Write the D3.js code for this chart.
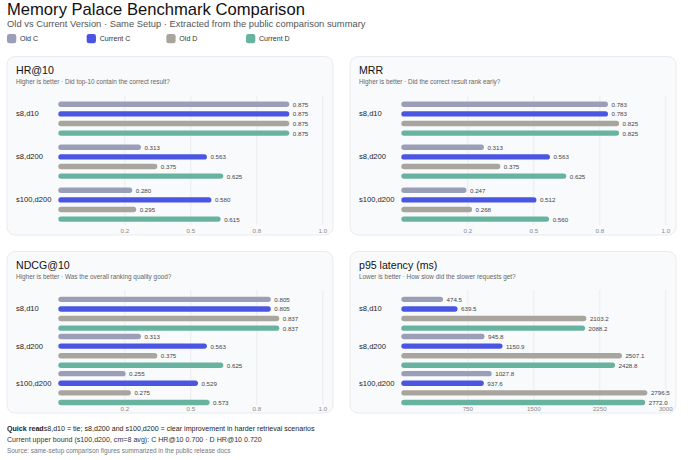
<!DOCTYPE html>
<html>
<head>
<meta charset="utf-8">
<script src="https://cdn.jsdelivr.net/npm/d3@7"></script>
<style>
  html, body { margin: 0; padding: 0; background: #ffffff; }
  svg { display: block; font-family: "Liberation Sans", Arial, Helvetica, sans-serif; }
</style>
</head>
<body>
<svg id="chart" width="690" height="460"></svg>
<script>
// ---------------- DATA ----------------
const categories = ["s8,d10", "s8,d200", "s100,d200"];
const seriesNames = ["Old C", "Current C", "Old D", "Current D"];
const seriesColors = ["#9a9fb7", "#4a55e2", "#a8a59e", "#68b3a0"];

// HR@10
const hrOldC = [0.875, 0.313, 0.280];
const hrCurC = [0.875, 0.563, 0.580];
const hrOldD = [0.875, 0.375, 0.295];
const hrCurD = [0.875, 0.625, 0.615];
// MRR
const mrrOldC = [0.783, 0.313, 0.247];
const mrrCurC = [0.783, 0.563, 0.512];
const mrrOldD = [0.825, 0.375, 0.268];
const mrrCurD = [0.825, 0.625, 0.560];
// NDCG@10
const ndcgOldC = [0.805, 0.313, 0.255];
const ndcgCurC = [0.805, 0.563, 0.529];
const ndcgOldD = [0.837, 0.375, 0.275];
const ndcgCurD = [0.837, 0.625, 0.573];
// p95 latency (ms)
const latOldC = [474.5, 945.8, 1027.8];
const latCurC = [639.5, 1150.9, 937.6];
const latOldD = [2103.2, 2507.1, 2796.5];
const latCurD = [2088.2, 2428.8, 2772.0];

const metricTicks = [0.25, 0.5, 0.75, 1.0];
const metricTickLabels = ["0.2", "0.5", "0.8", "1.0"];
const latencyTicks = [750, 1500, 2250, 3000];
const latencyTickLabels = ["750", "1500", "2250", "3000"];

const panelTitles = ["HR@10", "MRR", "NDCG@10", "p95 latency (ms)"];
const panelSubtitles = [
  "Higher is better · Did top-10 contain the correct result?",
  "Higher is better · Did the correct result rank early?",
  "Higher is better · Was the overall ranking quality good?",
  "Lower is better · How slow did the slower requests get?"
];

// ---------------- LAYOUT ----------------
const svg = d3.select("#chart");

svg.append("text").attr("x", 7).attr("y", 14.8)
  .attr("font-size", 16.6).attr("fill", "#111")
  .text("Memory Palace Benchmark Comparison");
svg.append("text").attr("x", 7).attr("y", 27.4)
  .attr("font-size", 9.4).attr("fill", "#555")
  .text("Old vs Current Version · Same Setup · Extracted from the public comparison summary");

// legend
const legendX = d3.scalePoint().domain(seriesNames).range([7, 246]);
const lg = svg.append("g");
seriesNames.forEach((s, i) => {
  lg.append("rect").attr("x", legendX(s)).attr("y", 34).attr("width", 9.3).attr("height", 9.3)
    .attr("rx", 2.3).attr("fill", seriesColors[i]);
  lg.append("text").attr("x", legendX(s) + 13).attr("y", 41.4)
    .attr("font-size", 7.1).attr("fill", "#333").text(s);
});

const panels = [
  { title: panelTitles[0], sub: panelSubtitles[0], series: [hrOldC, hrCurC, hrOldD, hrCurD],
    domain: [0, 1], ticks: metricTicks, tickLabels: metricTickLabels,
    x: 7, y: 56.5, w: 326, h: 178.5, row: 0 },
  { title: panelTitles[1], sub: panelSubtitles[1], series: [mrrOldC, mrrCurC, mrrOldD, mrrCurD],
    domain: [0, 1], ticks: metricTicks, tickLabels: metricTickLabels,
    x: 350, y: 56.5, w: 326, h: 178.5, row: 0 },
  { title: panelTitles[2], sub: panelSubtitles[2], series: [ndcgOldC, ndcgCurC, ndcgOldD, ndcgCurD],
    domain: [0, 1], ticks: metricTicks, tickLabels: metricTickLabels,
    x: 7, y: 251.5, w: 326, h: 161.5, row: 1 },
  { title: panelTitles[3], sub: panelSubtitles[3], series: [latOldC, latCurC, latOldD, latCurD],
    domain: [0, 3000], ticks: latencyTicks, tickLabels: latencyTickLabels,
    x: 350, y: 251.5, w: 326, h: 161.5, row: 1 }
];

const rowLayout = [
  { gridTop: 39.2, gridBottom: 168.5, bandTop: 40.7, bandBottom: 169.7, labelBase: 176 },
  { gridTop: 38.5, gridBottom: 153, bandTop: 43.7, bandBottom: 155.1, labelBase: 159 }
];

panels.forEach(p => {
  const L = rowLayout[p.row];
  const g = svg.append("g").attr("transform", `translate(${p.x},${p.y})`);
  g.append("rect").attr("x", 0).attr("y", 0).attr("width", p.w).attr("height", p.h)
    .attr("rx", 8).attr("fill", "#f9fafc").attr("stroke", "#e4e6eb").attr("stroke-width", 0.8);

  g.append("text").attr("x", 9).attr("y", 17.8).attr("font-size", 10.6).attr("fill", "#111").text(p.title);
  g.append("text").attr("x", 9).attr("y", 27).attr("font-size", 6.4).attr("fill", "#666").text(p.sub);

  const x = d3.scaleLinear().domain(p.domain).range([51.3, 315.3]);
  const yG = d3.scaleBand().domain(categories).range([L.bandTop, L.bandBottom]).padding(0);
  const yS = d3.scalePoint().domain(seriesNames).range([-14.4, 14.4]);

  // grid + tick labels via axis
  const ax = g.append("g").attr("transform", `translate(0,${L.gridBottom})`)
    .call(d3.axisBottom(x).tickValues(p.ticks)
      .tickFormat((d, i) => p.tickLabels[i])
      .tickSize(-(L.gridBottom - L.gridTop)).tickPadding(3));
  ax.select(".domain").remove();
  ax.selectAll(".tick line").attr("stroke", "#e6e7ec").attr("stroke-width", 0.7);
  ax.selectAll(".tick text").attr("y", L.labelBase - L.gridBottom).attr("dy", 0)
    .attr("font-size", 6.2).attr("fill", "#888").attr("font-family", null);

  // group labels
  g.selectAll(".glabel").data(categories).enter().append("text")
    .attr("x", 9).attr("y", d => yG(d) + yG.bandwidth() / 2 + yS(seriesNames[1]))
    .attr("dominant-baseline", "central")
    .attr("font-size", 7.6).attr("fill", "#222").text(d => d);

  const barH = 5.4;
  seriesNames.forEach((s, si) => {
    const vals = p.series[si];
    const rows = categories.map((c, ci) => ({ c, v: vals[ci] }));
    g.selectAll(null).data(rows).enter().append("rect")
      .attr("x", x(0))
      .attr("y", d => yG(d.c) + yG.bandwidth() / 2 + yS(s) - barH / 2)
      .attr("width", d => x(d.v) - x(0))
      .attr("height", barH).attr("rx", barH / 2)
      .attr("fill", seriesColors[si]);
    g.selectAll(null).data(rows).enter().append("text")
      .attr("x", d => x(d.v) + 3.5)
      .attr("y", d => yG(d.c) + yG.bandwidth() / 2 + yS(s))
      .attr("dominant-baseline", "central")
      .attr("font-size", 6.2).attr("fill", "#444")
      .text(d => p.domain[1] > 10 ? d3.format(".1f")(d.v) : d3.format(".3f")(d.v));
  });
});

// footer
const f1 = svg.append("text").attr("x", 7).attr("y", 430.5).attr("font-size", 7.1).attr("fill", "#222");
f1.append("tspan").attr("font-weight", "bold").text("Quick read");
f1.append("tspan").text("s8,d10 = tie; s8,d200 and s100,d200 = clear improvement in harder retrieval scenarios");
svg.append("text").attr("x", 7).attr("y", 441.5).attr("font-size", 7.1).attr("fill", "#333")
  .text("Current upper bound (s100,d200, cm=8 avg): C HR@10 0.700 · D HR@10 0.720");
svg.append("text").attr("x", 7).attr("y", 452.5).attr("font-size", 6.4).attr("fill", "#777")
  .text("Source: same-setup comparison figures summarized in the public release docs");
</script>
</body>
</html>
